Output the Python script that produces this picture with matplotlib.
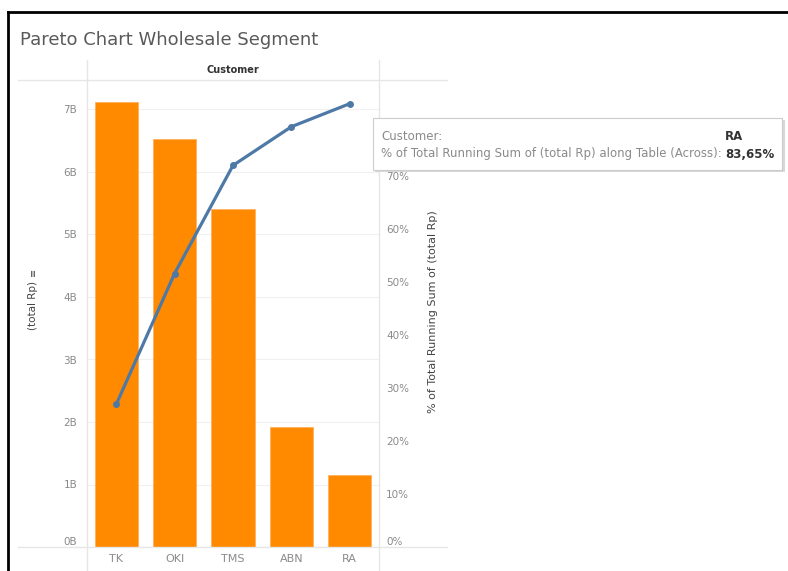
import numpy as np
import matplotlib
matplotlib.use("Agg")
import matplotlib.pyplot as plt
from matplotlib.lines import Line2D
from matplotlib.patches import Rectangle

# ============= data =============
customers = ["TK", "OKI", "TMS", "ABN", "RA"]
total_rp = [7.12, 6.53, 5.41, 1.92, 1.15]          # milliards (B)
running_pct = [26.9, 51.6, 72.0, 79.3, 83.65]      # % of total running sum
left_ticks = [0, 1, 2, 3, 4, 5, 6, 7]
right_ticks = [0, 10, 20, 30, 40, 50, 60, 70, 80]

W, H = 788, 571
orange = "#ff8a00"
blue = "#4e79a7"
grey = "#8a8a8a"
line_c = "#e6e6e6"

def fx(px):
    return px / W

def fy(py):
    return 1 - py / H

fig = plt.figure(figsize=(W / 100, H / 100), dpi=100)
ax = fig.add_axes([fx(87), fy(547), fx(379) - fx(87), fy(88) - fy(547)])

x = np.arange(len(customers))
ax.bar(x, total_rp, width=0.74, color=orange, edgecolor="#ffb060", linewidth=0.6, zorder=2)
ax.set_xlim(-0.5, 4.5)
ax.set_ylim(0, (547 - 88) / 62.5)
ax.set_yticks(left_ticks)
ax.set_yticklabels([f"{t}B" for t in left_ticks], color=grey, fontsize=7.5)
ax.set_xticks(x)
ax.set_xticklabels(customers, color=grey, fontsize=8)
ax.tick_params(axis="x", length=0, pad=5)
ax.tick_params(axis="y", length=0, pad=7)
ax.get_yticklabels()[0].set_va("bottom")
for s in ax.spines.values():
    s.set_visible(False)
ax.grid(axis="y", color="#f0f0f0", linewidth=0.8, zorder=0)
ax.set_axisbelow(True)

ax2 = ax.twinx()
ax2.plot(x, running_pct, color=blue, linewidth=2.3, marker="o", markersize=4, zorder=3)
ax2.set_ylim(0, (547 - 88) / 5.3)
ax2.set_yticks(right_ticks)
ax2.set_yticklabels([f"{t}%" for t in right_ticks], color=grey, fontsize=7.5)
ax2.tick_params(axis="y", length=0, pad=5)
ax2.get_yticklabels()[0].set_va("bottom")
for s in ax2.spines.values():
    s.set_visible(False)

# frame lines like tableau
fig.add_artist(Line2D([fx(87), fx(87)], [fy(60), 0], color=line_c, lw=1))
fig.add_artist(Line2D([fx(379), fx(379)], [fy(60), 0], color=line_c, lw=1))
fig.add_artist(Line2D([fx(18), fx(447)], [fy(80), fy(80)], color=line_c, lw=1))
fig.add_artist(Line2D([fx(18), fx(447)], [fy(547), fy(547)], color=line_c, lw=1))

# outer border
fig.add_artist(Line2D([fx(8), 1], [fy(12), fy(12)], color="black", lw=2))
fig.add_artist(Line2D([fx(8), fx(8)], [fy(12), 0], color="black", lw=2))

fig.text(fx(20), fy(40), "Pareto Chart Wholesale Segment", fontsize=13,
         color="#5a5a5a", va="center", ha="left")
fig.text(fx(233), fy(70), "Customer", fontsize=7, color="#333333",
         va="center", ha="center", fontweight="bold")
fig.text(fx(33), fy(306), "(total Rp)", fontsize=7.5, color="#444444",
         rotation=90, va="center", ha="center")
fig.text(fx(33), fy(272), "\u2261", fontsize=7, color="#444444",
         rotation=90, va="center", ha="center")
fig.text(fx(433), fy(312), "% of Total Running Sum of (total Rp)", fontsize=8,
         color="#444444", rotation=90, va="center", ha="center")

# tooltip
shadow = Rectangle((fx(375), fy(172)), fx(785) - fx(375), fy(120) - fy(172),
                   transform=fig.transFigure, facecolor="#d8d8d8", edgecolor="none", zorder=9)
fig.add_artist(shadow)
tip = Rectangle((fx(373), fy(170)), fx(782) - fx(373), fy(118) - fy(170),
                transform=fig.transFigure, facecolor="white", edgecolor="#cccccc",
                lw=0.8, zorder=10)
fig.add_artist(tip)
fig.text(fx(381), fy(136), "Customer:", fontsize=8.5, color=grey, va="center", zorder=11)
fig.text(fx(381), fy(154), "% of Total Running Sum of (total Rp) along Table (Across):",
         fontsize=8.5, color=grey, va="center", zorder=11)
fig.text(fx(725), fy(136), customers[-1], fontsize=8.5, color="#333333",
         fontweight="bold", va="center", zorder=11)
fig.text(fx(725), fy(154), f"{running_pct[-1]:.2f}%".replace(".", ","), fontsize=8.5,
         color="#333333", fontweight="bold", va="center", zorder=11)

fig.savefig("out.png", dpi=100, facecolor="white")
